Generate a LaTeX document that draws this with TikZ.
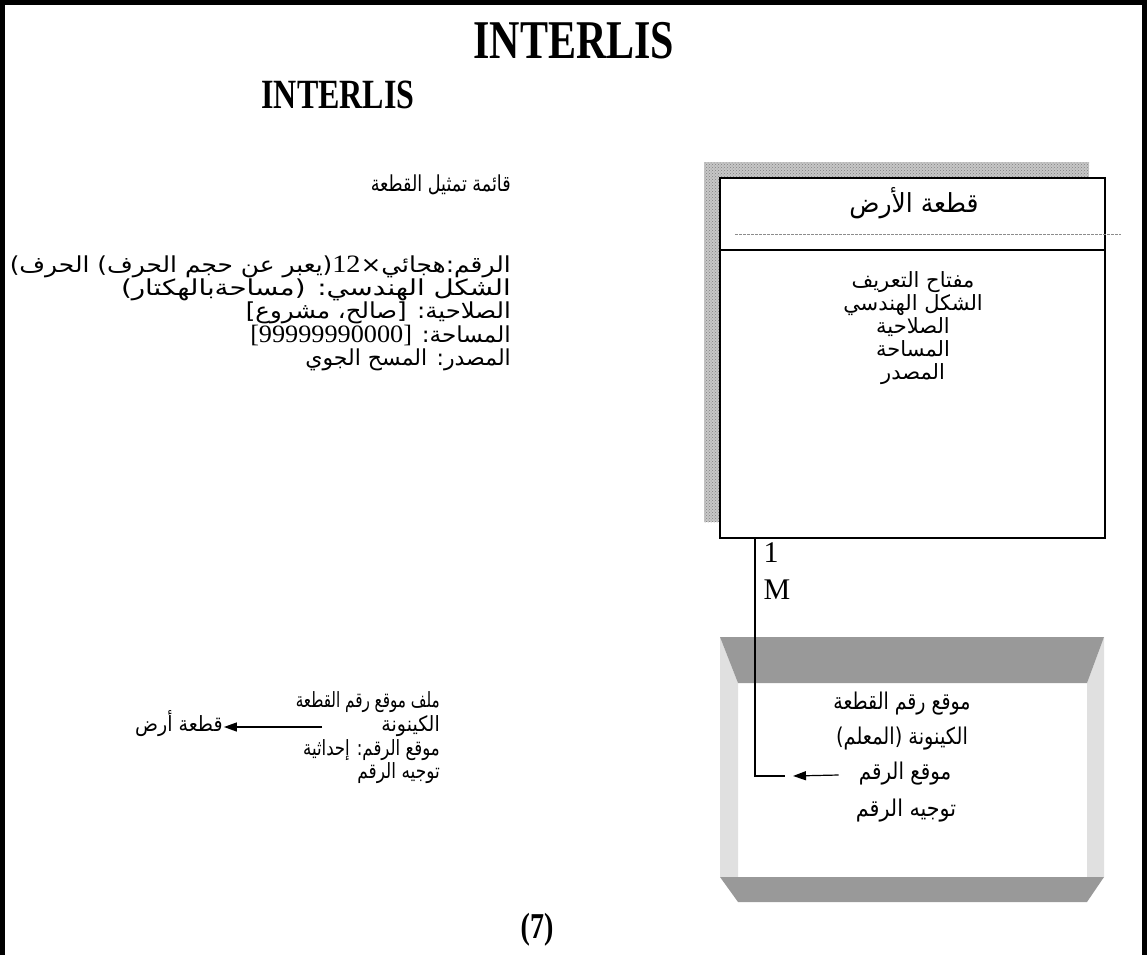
\documentclass[tikz,border=0pt]{standalone}
\usepackage{fontspec}
\setmainfont{Liberation Serif}
\newfontfamily\arabicfont[Script=Arabic]{DejaVu Sans}
\newfontfamily\timesfont{Liberation Serif}
\usetikzlibrary{arrows.meta,patterns}
\TeXXeTstate=1
\tikzset{
  ar/.style={font=\arabicfont\fontsize{21}{25}\selectfont, inner sep=0pt, text height=14pt, text depth=5pt},
  arl/.style={font=\arabicfont\fontsize{22}{26}\selectfont, inner sep=0pt, text height=14pt, text depth=5pt},
  arm/.style={font=\arabicfont\fontsize{22}{26}\selectfont, inner sep=0pt, text height=15pt, text depth=6pt},
  arsm/.style={font=\arabicfont\fontsize{20}{24}\selectfont, inner sep=0pt, text height=13pt, text depth=5pt},
  latin/.style={font=\timesfont\fontsize{30}{34}\selectfont, inner sep=0pt},
  ttl/.style={inner sep=0pt},
  frameline/.style={line width=5pt},
  boxline/.style={line width=2pt},
  conn/.style={line width=1.5pt},
  arr/.style={line width=1.2pt, -{Triangle[length=13pt,width=9pt]}},
  darkband/.style={fill=black!40},
  lightband/.style={fill=black!12},
}
\newcommand{\lt}[1]{\beginL{\timesfont\fontsize{25}{27}\selectfont #1}\endL}
% horizontal scale, vertical scale, text
\newcommand{\SC}[3]{\scalebox{#1}[#2]{#3}}
\begin{document}
\begin{tikzpicture}[x=1pt,y=-1pt]
\useasboundingbox (0,0) rectangle (1147,955);
% page frame
\draw[frameline] (2.5,955) -- (2.5,2.5) -- (1144.5,2.5) -- (1144.5,955);

% titles
\node[ttl, font=\timesfont\bfseries\fontsize{42}{46}\selectfont] (t1) at (574,41) {\scalebox{1}[1.3]{INTERLIS}};
\node[ttl, font=\timesfont\bfseries\fontsize{32}{36}\selectfont] (t2) at (338,95) {\scalebox{1}[1.3]{INTERLIS}};

% left list
\node[ar, font=\arabicfont\fontsize{22}{26}\selectfont, anchor=east] (lt) at (511,187) {\SC{0.8}{1}{\beginR قائمة تمثيل القطعة\endR}};
\node[arl, anchor=east] (l1) at (511,268) {\SC{1.13}{1}{\beginR الرقم:هجائي×\lt{12}(يعبر عن حجم الحرف) الحرف)\endR}};
\node[arl, anchor=east] (l2) at (511,291) {\SC{1.26}{1}{\beginR الشكل الهندسي: (مساحةبالهكتار)\endR}};
\node[arl, anchor=east] (l3) at (511,314) {\SC{1.11}{1}{\beginR الصلاحية: [صالح، مشروع]\endR}};
\node[arl, anchor=east] (l4) at (511,338) {\SC{1.05}{1}{\beginR المساحة: \lt{[99999990000]}\endR}};
\node[arl, anchor=east] (l5) at (511,361) {\SC{1}{1}{\beginR المصدر: المسح الجوي\endR}};

% entity box with shadow
\fill[black!22] (704,162) rectangle (1089,522);
\fill[pattern=crosshatch dots, pattern color=black!50] (704,162) rectangle (1089,522);
\node[boxline, draw, fill=white, minimum width=385pt, minimum height=360pt, inner sep=0pt] (plot) at (912.5,358) {};
\coordinate (dv) at (720,250);
\draw[boxline] (dv) -- (dv -| plot.east);
\draw[black!45, line width=1pt, dash pattern=on 3pt off 1pt] (735,234) -- (1121,234);
\node[ar, font=\arabicfont\fontsize{25}{29}\selectfont] (bt) at (914,208) {\SC{1}{1.05}{\beginR قطعة الأرض\endR}};
\node[ar] (b1) at (913,283) {\SC{1}{1}{\beginR مفتاح التعريف\endR}};
\node[ar] (b2) at (913,306) {\SC{1}{1}{\beginR الشكل الهندسي\endR}};
\node[ar] (b3) at (913,329) {\SC{1}{1}{\beginR الصلاحية\endR}};
\node[ar] (b4) at (913,352) {\SC{1}{1}{\beginR المساحة\endR}};
\node[ar] (b5) at (913,375) {\SC{1}{1}{\beginR المصدر\endR}};

% bevelled box
\fill[lightband] (720,637) -- (738,683) -- (738,877) -- (720,877) -- cycle;
\fill[lightband] (1104,637) -- (1087,683) -- (1087,877) -- (1104,877) -- cycle;
\fill[darkband] (720,637) -- (1104,637) -- (1087,683) -- (738,683) -- cycle;
\fill[darkband] (720,877) -- (1104,877) -- (1087,902) -- (738,902) -- cycle;
\node[arm] (m1) at (902,705) {\SC{0.86}{1.05}{\beginR موقع رقم القطعة\endR}};
\node[arm] (m2) at (902,740) {\SC{0.88}{1.05}{\beginR الكينونة (المعلم)\endR}};
\node[arm] (m3) at (905,775) {\SC{0.9}{1.05}{\beginR موقع الرقم\endR}};
\node[arm] (m4) at (906,812) {\SC{0.94}{1.05}{\beginR توجيه الرقم\endR}};

% relationship connector
\coordinate (c0) at (755,538);
\coordinate (c1) at (785,776);
\coordinate (c2) at (793,776);
\draw[conn] (c0) |- (c1);
\draw[arr] (m3.west) ++(-20,0) -- (c2);
\node[latin] (one) at (771,553) {1};
\node[latin] (many) at (777,590) {M};

% left lower text
\node[arsm, anchor=east] (f1) at (440,703) {\SC{0.76}{1.05}{\beginR ملف موقع رقم القطعة\endR}};
\node[arsm, anchor=east] (f2) at (440,727) {\SC{0.95}{1.05}{\beginR الكينونة\endR}};
\node[arsm, anchor=west] (f2b) at (135,727) {\SC{0.95}{1.05}{\beginR قطعة أرض\endR}};
\coordinate (f2t) at (322,727);
\draw[arr, shorten >=1pt] (f2t) -- (f2b.east);
\node[arsm, anchor=east] (f3) at (440,751) {\SC{0.83}{1.05}{\beginR موقع الرقم:  إحداثية\endR}};
\node[arsm, anchor=east] (f4) at (440,774) {\SC{0.85}{1.05}{\beginR توجيه الرقم\endR}};

% page number
\node[ttl, font=\timesfont\bfseries\fontsize{28}{32}\selectfont] (pg) at (537,930) {\scalebox{1}[1.3]{(7)}};
\end{tikzpicture}
\end{document}
